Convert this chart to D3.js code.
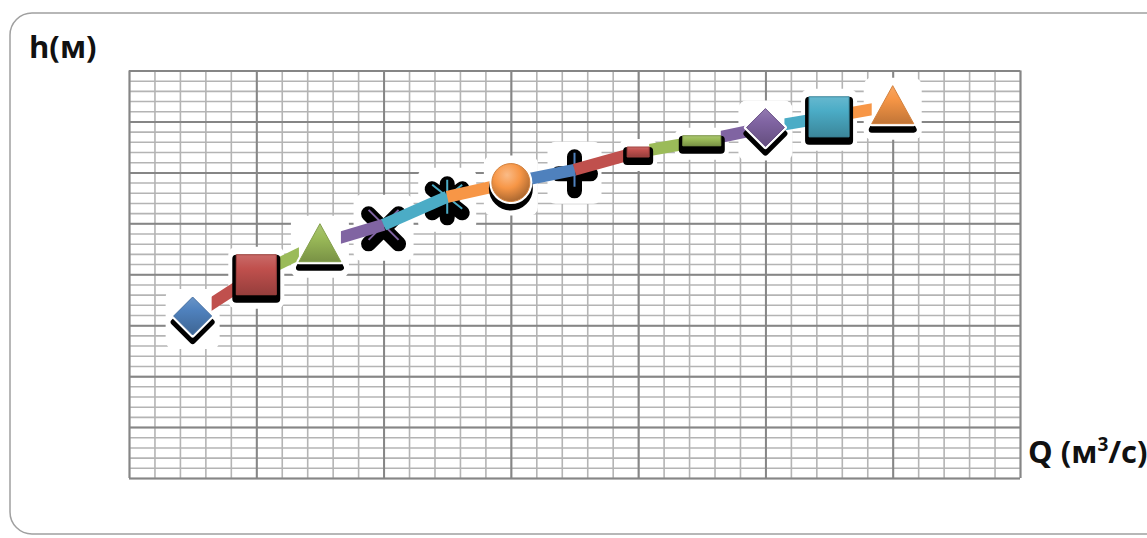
<!DOCTYPE html>
<html>
<head>
<meta charset="utf-8">
<title>h(Q)</title>
<script src="https://d3js.org/d3.v7.min.js"></script>
<style>
  body { margin: 0; background: #fff; }
  svg { display: block; }
  .lbl { font-family: "Open Sans", "DejaVu Sans", sans-serif; font-weight: bold; fill: #111; }
</style>
</head>
<body>
<div id="chart"></div>
<script>
// data
var Q = [0.5, 1.0, 1.5, 2.0, 2.5, 3.0, 3.5, 4.0, 4.5, 5.0, 5.5, 6.0];
var H = [3.18, 3.99, 4.60, 4.97, 5.52, 5.80, 6.05, 6.40, 6.62, 6.88, 7.09, 7.31];
var xDomain = [0, 7];
var yDomain = [0, 8];

// excel style series look
var colors = ["#4F81BD", "#C0504D", "#9BBB59", "#8064A2", "#4BACC6", "#F79646"];
var shapes = ["diamond", "square", "triangle", "x", "star", "circle", "plus", "dash", "longdash", "diamond", "square", "triangle"];

var width = 1147, height = 538;
var svg = d3.select("#chart").append("svg").attr("width", width).attr("height", height);
var defs = svg.append("defs");

// outer rounded frame
svg.append("rect")
  .attr("x", 10).attr("y", 13).attr("width", 1160).attr("height", 521)
  .attr("rx", 22).attr("ry", 22)
  .attr("fill", "#fff").attr("stroke", "#a0a0a0").attr("stroke-width", 1.5);

var x = d3.scaleLinear().domain(xDomain).range([129, 1020]);
var y = d3.scaleLinear().domain(yDomain).range([478, 70.5]);

var minorX = d3.range(0, 35 + 1).map(function(i) { return i / 5; });
var minorY = d3.range(0, 40 + 1).map(function(i) { return i / 5; });
var majorX = d3.range(0, 8);
var majorY = d3.range(0, 9);

function grid(g, axis, col, w) {
  g.call(axis);
  g.select(".domain").remove();
  g.selectAll(".tick line").attr("stroke", col).attr("stroke-width", w);
}

svg.append("g").attr("transform", "translate(0,478)")
  .call(grid, d3.axisBottom(x).tickValues(minorX).tickSize(-(478 - 70.5)).tickFormat(""), "#b4b4b4", 1.6);
svg.append("g").attr("transform", "translate(129,0)")
  .call(grid, d3.axisLeft(y).tickValues(minorY).tickSize(-(1020 - 129)).tickFormat(""), "#b4b4b4", 1.6);
svg.append("g").attr("transform", "translate(0,478)")
  .call(grid, d3.axisBottom(x).tickValues(majorX).tickSize(-(478 - 70.5)).tickFormat(""), "#868686", 2);
svg.append("g").attr("transform", "translate(129,0)")
  .call(grid, d3.axisLeft(y).tickValues(majorY).tickSize(-(1020 - 129)).tickFormat(""), "#868686", 2);

// gradients for bevel look
colors.forEach(function(c, i) {
  var lg = defs.append("linearGradient").attr("id", "g" + i)
    .attr("x1", 0).attr("y1", 0).attr("x2", 0).attr("y2", 1);
  lg.append("stop").attr("offset", "0%").attr("stop-color", d3.interpolateRgb(c, "#fff")(0.15));
  lg.append("stop").attr("offset", "35%").attr("stop-color", c);
  lg.append("stop").attr("offset", "100%").attr("stop-color", d3.interpolateRgb(c, "#000")(0.22));
  var rg = defs.append("radialGradient").attr("id", "r" + i)
    .attr("cx", "40%").attr("cy", "30%").attr("r", "70%");
  rg.append("stop").attr("offset", "0%").attr("stop-color", d3.interpolateRgb(c, "#fff")(0.35));
  rg.append("stop").attr("offset", "50%").attr("stop-color", c);
  rg.append("stop").attr("offset", "100%").attr("stop-color", d3.interpolateRgb(c, "#000")(0.3));
});

var pts = Q.map(function(q, i) {
  return { x: x(q), y: y(H[i]), shape: shapes[i], ci: i % colors.length };
});

function shapePath(s) {
  if (s == "diamond") return "M0,-19L19,0L0,19L-19,0Z";
  if (s == "square") return "M-20,-20L20,-20L20,20L-20,20Z";
  if (s == "triangle") return "M0,-20L21,18L-21,18Z";
  if (s == "circle") return "M-19,0A19,19 0 1,0 19,0A19,19 0 1,0 -19,0Z";
  if (s == "dash") return "M-11,-5L11,-5L11,5L-11,5Z";
  if (s == "longdash") return "M-19,-5L19,-5L19,5L-19,5Z";
  if (s == "x") return "M-15,-15L15,15M15,-15L-15,15";
  if (s == "plus") return "M0,-17L0,17M-16,0L16,0";
  if (s == "star") return "M0,-17L0,17M-15,-12L15,12M15,-12L-15,12";
}
var halfW = { diamond: 19, square: 20, triangle: 21, circle: 19, dash: 11, longdash: 19, x: 22, plus: 19, star: 21 };
var halfH = { diamond: 19, square: 20, triangle: 20, circle: 19, dash: 5, longdash: 5, x: 22, plus: 20, star: 21 };
var lineMarks = ["x", "plus", "star"];

function halo(g, d) {
  g.append("rect")
    .attr("x", d.x - halfW[d.shape] - 8).attr("y", d.y - halfH[d.shape] - 8)
    .attr("width", 2 * halfW[d.shape] + 16).attr("height", 2 * halfH[d.shape] + 22)
    .attr("rx", 8).attr("fill", "#fff");
}

function drawMarker(g, d) {
  var m = g.append("g").attr("transform", "translate(" + d.x + "," + d.y + ")");
  var c = colors[d.ci];
  if (lineMarks.indexOf(d.shape) >= 0) {
    m.append("path").attr("d", shapePath(d.shape)).attr("transform", "translate(0,4)")
      .attr("stroke", "#000").attr("stroke-width", 15).attr("stroke-linecap", "round").attr("fill", "none");
    m.append("path").attr("d", shapePath(d.shape))
      .attr("stroke", c).attr("stroke-width", 2).attr("fill", "none");
    return;
  }
  // hides the ends of the bands inside the marker box
  var hh = Math.max(halfH[d.shape], 9);
  m.append("rect").attr("x", -halfW[d.shape]).attr("y", -hh - 2)
    .attr("width", 2 * halfW[d.shape]).attr("height", 2 * hh + 8).attr("fill", "#fff");
  var flat = d.shape == "square" || d.shape == "dash" || d.shape == "longdash";
  m.append("path").attr("d", shapePath(d.shape)).attr("transform", "translate(0," + (flat ? 4 : 6) + ")")
    .attr("fill", "#000").attr("stroke", "#000").attr("stroke-width", flat ? 8 : 6).attr("stroke-linejoin", "round");
  if (!flat) {
    m.append("path").attr("d", shapePath(d.shape))
      .attr("fill", "#fff").attr("stroke", "#fff").attr("stroke-width", 5).attr("stroke-linejoin", "round");
  }
  m.append("path").attr("d", shapePath(d.shape))
    .attr("fill", d.shape == "circle" ? "url(#r" + d.ci + ")" : "url(#g" + d.ci + ")")
    .attr("stroke", d3.interpolateRgb(c, "#000")(0.15)).attr("stroke-width", 1);
}

var under = svg.append("g");
var segs = svg.append("g");
var over = svg.append("g");

pts.forEach(function(d) {
  halo(under, d);
  drawMarker(lineMarks.indexOf(d.shape) >= 0 ? under : over, d);
});

// each segment takes the colour of the point it runs into
d3.pairs(pts).forEach(function(p) {
  segs.append("line")
    .attr("x1", p[0].x).attr("y1", p[0].y).attr("x2", p[1].x).attr("y2", p[1].y)
    .attr("stroke", colors[p[1].ci]).attr("stroke-width", 12).attr("stroke-linecap", "butt");
});

svg.append("text").attr("class", "lbl").attr("x", 29).attr("y", 58)
  .attr("font-size", 31).text("h(м)");
var ql = svg.append("text").attr("class", "lbl").attr("x", 1028).attr("y", 463).attr("font-size", 31);
ql.append("tspan").text("Q (м");
ql.append("tspan").attr("font-size", 19).attr("dy", -12).text("3");
ql.append("tspan").attr("dy", 12).text("/с)");
</script>
</body>
</html>
